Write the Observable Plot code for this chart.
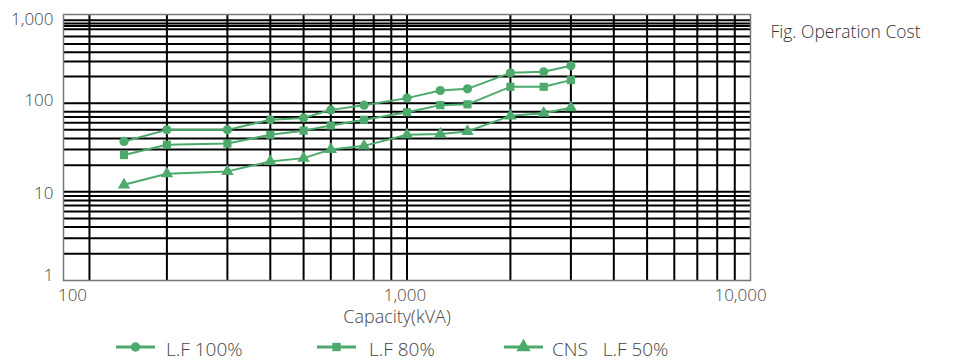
<!DOCTYPE html>
<html>
<head>
<meta charset="utf-8">
<script src="https://cdn.jsdelivr.net/npm/d3@7"></script>
<script src="https://cdn.jsdelivr.net/npm/@observablehq/plot@0.6"></script>
<style>
  html, body { margin: 0; padding: 0; background: #fff; }
  #chart { position: relative; width: 960px; }
  #legend { position: relative; width: 960px; height: 27px; font-family: "Open Sans", sans-serif; font-weight: 300; font-size: 19px; color: #444; }
  .item { position: absolute; top: 0; height: 27px; }
  .item svg { position: absolute; left: 0; top: 2px; }
  .item span { position: absolute; top: 1px; white-space: pre; line-height: 27px; }
</style>
</head>
<body>
<div id="chart"></div>
<div id="legend"></div>
<script>
// ---- data ----
const capacity = [150, 200, 300, 400, 500, 600, 750, 1000, 1250, 1500, 2000, 2500, 3000];
const lf100 = [37, 50, 50, 65, 68, 84, 95, 114, 139, 145, 220, 226, 264];
const lf80  = [26, 34, 35, 44, 49, 56, 65, 79, 95, 97, 153, 153, 182];
const lf50  = [12, 16, 17, 22, 24, 30, 33, 44, 45, 48, 72, 77, 89];
const seriesNames = ["L.F 100%", "L.F 80%", "CNS   L.F 50%"];
const seriesSymbols = ["circle", "square", "triangle"];

const xGrid = [119, 200, 300, 400, 500, 600, 700, 800, 900, 1000, 2000, 3000, 4000, 5000, 6000, 7000, 8000, 9000];
const yGrid = [860, 790, 740, 680, 565, 465, 375, 295, 200, 100, 80, 70, 60, 50, 40, 30, 20, 10, 9, 8, 7, 6, 5, 4, 3, 2];
const xTicks = [100, 1000, 10000];
const yTicks = [1000, 100, 10, 1];
const title = "Fig. Operation Cost";
const xLabel = "Capacity(kVA)";

const green = "#4caa6c";

const valuesList = [lf100, lf80, lf50];
const data = seriesNames.flatMap((s, i) => capacity.map((c, j) => ({series: s, capacity: c, value: valuesList[i][j]})));

const fmt = d3.format(",");

const xDx = [9, -2, -10];
const yDy = [5.5, -3, 1.5, -5];

const chart = Plot.plot({
  width: 960,
  height: 335,
  marginLeft: 63,
  marginRight: 210,
  marginTop: 14,
  marginBottom: 55,
  style: {fontFamily: "Open Sans, sans-serif", fontSize: "17px", color: "#444", fontWeight: 300, background: "#fff"},
  x: {type: "log", domain: [100, 10000], label: null},
  y: {type: "log", domain: [1, 1000], label: null},
  symbol: {domain: seriesNames, range: seriesSymbols},
  marks: [
    Plot.ruleX(xGrid, {stroke: "#000", strokeWidth: 2}),
    Plot.ruleY(yGrid, {stroke: "#000", strokeWidth: 2}),
    Plot.frame({stroke: "#777", strokeWidth: 1.5}),
    Plot.line(data, {x: "capacity", y: "value", z: "series", stroke: green, strokeWidth: 2}),
    Plot.dot(data, {x: "capacity", y: "value", symbol: "series", fill: green, stroke: "none", r: 4.6}),
    ...xTicks.map((t, i) => Plot.axisX([t], {tickSize: 0, tickPadding: 8, tickFormat: fmt, label: null, dx: xDx[i]})),
    ...yTicks.map((t, i) => Plot.axisY([t], {tickSize: 0, tickPadding: 10, tickFormat: fmt, label: null, dy: yDy[i]})),
    Plot.text([xLabel], {frameAnchor: "bottom", dy: 42, dx: -10, fontSize: 18}),
    Plot.text([title], {frameAnchor: "top-right", textAnchor: "start", dx: 20, dy: 11, fontSize: 17.5, fill: "#333"})
  ]
});
document.getElementById("chart").appendChild(chart);

// ---- legend ----
const lefts = [116, 317, 504];
const textOffsets = [50, 52, 48];
const legend = d3.select("#legend");
seriesNames.forEach((name, i) => {
  const item = legend.append("div").attr("class", "item").style("left", lefts[i] + "px");
  const svg = item.append("svg").attr("width", 40).attr("height", 22);
  svg.append("line").attr("x1", 0).attr("x2", 39).attr("y1", 10).attr("y2", 10)
    .attr("stroke", green).attr("stroke-width", 3);
  const sym = [d3.symbolCircle, d3.symbolSquare, d3.symbolTriangle][i];
  const size = [70, 70, 90][i];
  svg.append("path").attr("d", d3.symbol(sym, size)()).attr("transform", "translate(19.5,10)").attr("fill", green);
  item.append("span").style("left", textOffsets[i] + "px").text(name);
});
</script>
</body>
</html>
